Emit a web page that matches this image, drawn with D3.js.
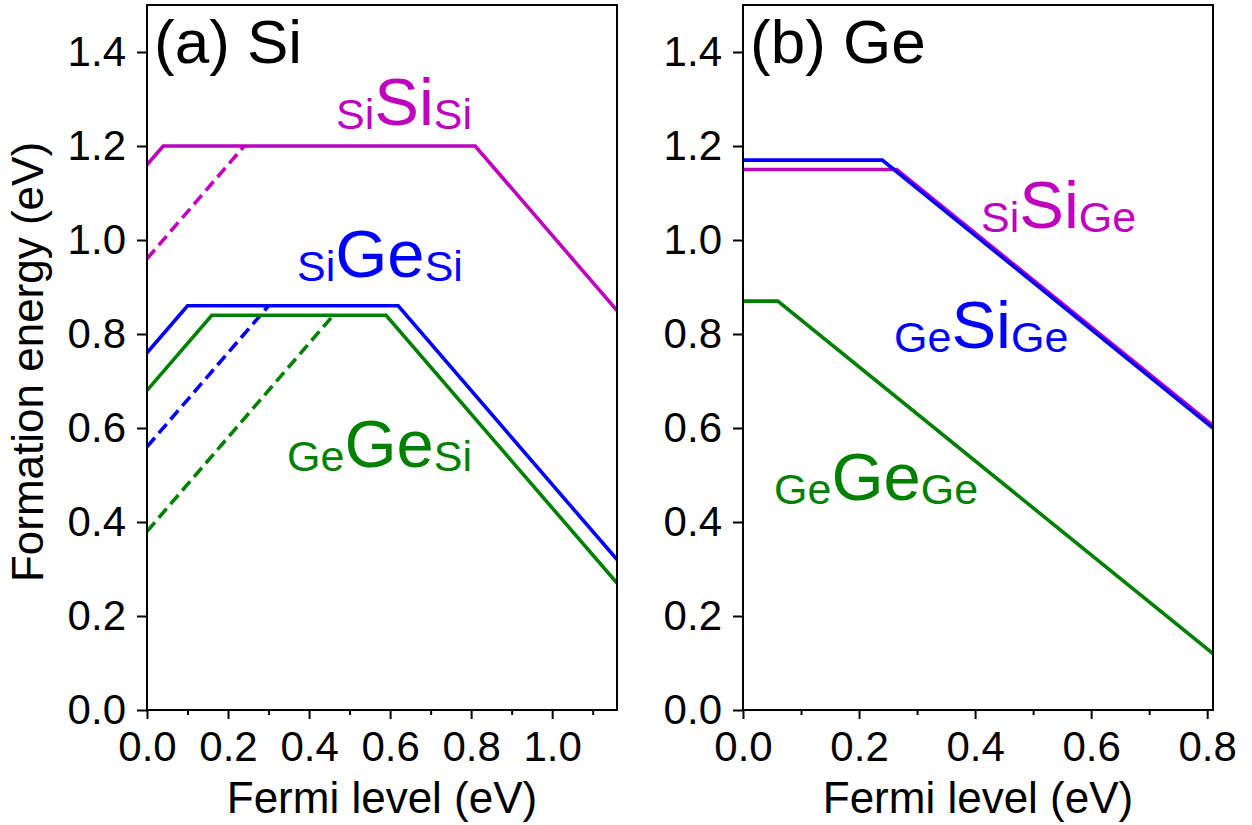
<!DOCTYPE html>
<html>
<head>
<meta charset="utf-8">
<script src="https://cdn.jsdelivr.net/npm/d3@7"></script>
<style>
  html, body { margin: 0; padding: 0; background: #fff; }
  svg { display: block; font-family: "Liberation Sans", Arial, Helvetica, sans-serif; }
</style>
</head>
<body>
<svg id="chart" width="1252" height="825"></svg>
<script>
// ---------- data ----------
const yDomain = [0, 1.5];
const yTickValues = [0.0, 0.2, 0.4, 0.6, 0.8, 1.0, 1.2, 1.4];

const xDomainA = [0, 1.16];
const xTickValuesA = [0.0, 0.2, 0.4, 0.6, 0.8, 1.0];
const xMinorTicksA = [0.1, 0.3, 0.5, 0.7, 0.9, 1.1];

const xDomainB = [0, 0.81];
const xTickValuesB = [0.0, 0.2, 0.4, 0.6, 0.8];
const xMinorTicksB = [0.1, 0.3, 0.5, 0.7];

// Panel (a) Si host
const aSiSi_fermi = [0, 0.04, 0.81, 1.16];
const aSiSi_energy = [1.16, 1.20, 1.20, 0.85];
const aSiSiDash_fermi = [0, 0.24];
const aSiSiDash_energy = [0.96, 1.20];

const aGe_fermi = [0, 0.10, 0.62, 1.16];
const aGe_energy = [0.76, 0.86, 0.86, 0.32];
const aGeDash_fermi = [0, 0.30];
const aGeDash_energy = [0.56, 0.86];

const aGeGe_fermi = [0, 0.16, 0.59, 1.16];
const aGeGe_energy = [0.68, 0.84, 0.84, 0.27];
const aGeGeDash_fermi = [0, 0.46];
const aGeGeDash_energy = [0.38, 0.84];

// Panel (b) Ge host
const bSiSi_fermi = [0, 0.265, 0.81];
const bSiSi_energy = [1.15, 1.15, 0.605];
const bGeSi_fermi = [0, 0.24, 0.81];
const bGeSi_energy = [1.17, 1.17, 0.60];
const bGeGe_fermi = [0, 0.06, 0.81];
const bGeGe_energy = [0.87, 0.87, 0.12];

const colMagenta = "#bf00bf", colBlue = "#0000ff", colGreen = "#008000";

// ---------- layout ----------
const svg = d3.select("#chart");
const panels = [
  {left: 147, right: 617, xDomain: xDomainA, ticks: xTickValuesA, minor: xMinorTicksA, title: "(a) Si",
   series: [
     {x: aSiSi_fermi, y: aSiSi_energy, c: colMagenta, dash: false},
     {x: aSiSiDash_fermi, y: aSiSiDash_energy, c: colMagenta, dash: true},
     {x: aGe_fermi, y: aGe_energy, c: colBlue, dash: false},
     {x: aGeDash_fermi, y: aGeDash_energy, c: colBlue, dash: true},
     {x: aGeGe_fermi, y: aGeGe_energy, c: colGreen, dash: false},
     {x: aGeGeDash_fermi, y: aGeGeDash_energy, c: colGreen, dash: true}
   ],
   labels: [
     {pre: "Si", main: "Si", post: "Si", c: colMagenta, x: 336, y: 125},
     {pre: "Si", main: "Ge", post: "Si", c: colBlue, x: 297, y: 277},
     {pre: "Ge", main: "Ge", post: "Si", c: colGreen, x: 287, y: 467}
   ]},
  {left: 743, right: 1213, xDomain: xDomainB, ticks: xTickValuesB, minor: xMinorTicksB, title: "(b) Ge",
   series: [
     {x: bSiSi_fermi, y: bSiSi_energy, c: colMagenta, dash: false},
     {x: bGeSi_fermi, y: bGeSi_energy, c: colBlue, dash: false},
     {x: bGeGe_fermi, y: bGeGe_energy, c: colGreen, dash: false}
   ],
   labels: [
     {pre: "Si", main: "Si", post: "Ge", c: colMagenta, x: 981, y: 228},
     {pre: "Ge", main: "Si", post: "Ge", c: colBlue, x: 894, y: 348},
     {pre: "Ge", main: "Ge", post: "Ge", c: colGreen, x: 774, y: 500}
   ]}
];
const plotTop = 5, plotBottom = 710;
const tickFont = 42, labelFont = 43;

panels.forEach(p => {
  const x = d3.scaleLinear().domain(p.xDomain).range([p.left, p.right]);
  const y = d3.scaleLinear().domain(yDomain).range([plotBottom, plotTop]);
  const g = svg.append("g");

  const line = d3.line().x(d => x(d[0])).y(d => y(d[1]));
  const clipId = "clip" + p.left;
  svg.append("clipPath").attr("id", clipId).append("rect")
    .attr("x", p.left).attr("y", plotTop).attr("width", p.right - p.left).attr("height", plotBottom - plotTop);
  const lg = g.append("g").attr("clip-path", `url(#${clipId})`);
  p.series.forEach(s => {
    const pts = s.x.map((v, i) => [v, s.y[i]]);
    lg.append("path").attr("d", line(pts)).attr("fill", "none")
      .attr("stroke", s.c).attr("stroke-width", 3.6)
      .attr("stroke-linejoin", "miter")
      .attr("stroke-dasharray", s.dash ? "12,6" : null);
  });

  const ya = g.append("g").attr("transform", `translate(${p.left},0)`)
    .call(d3.axisLeft(y).tickValues(yTickValues).tickFormat(d3.format(".1f")).tickSize(10).tickPadding(11).tickSizeOuter(0));
  const xa = g.append("g").attr("transform", `translate(0,${plotBottom})`)
    .call(d3.axisBottom(x).tickValues(p.ticks).tickFormat(d3.format(".1f")).tickSize(9).tickPadding(12).tickSizeOuter(0));
  const xm = g.append("g").attr("transform", `translate(0,${plotBottom})`)
    .call(d3.axisBottom(x).tickValues(p.minor).tickFormat("").tickSize(5).tickSizeOuter(0));
  [ya, xa, xm].forEach(a => {
    a.select(".domain").remove();
    a.selectAll("line").attr("stroke", "#000").attr("stroke-width", 2);
    a.selectAll("text").attr("font-size", tickFont).attr("fill", "#000")
      .attr("font-family", "'Liberation Sans', Arial, Helvetica, sans-serif");
  });

  g.append("rect").attr("x", p.left).attr("y", plotTop).attr("width", p.right - p.left).attr("height", plotBottom - plotTop)
    .attr("fill", "none").attr("stroke", "#000").attr("stroke-width", 2);

  g.append("text").attr("x", p.left + 7).attr("y", 63).attr("font-size", 62).attr("fill", "#000").text(p.title);

  g.append("text").attr("x", (p.left + p.right) / 2).attr("y", 813).attr("text-anchor", "middle")
    .attr("font-size", 44).attr("fill", "#000").text("Fermi level (eV)");

  p.labels.forEach(l => {
    const t = g.append("text").attr("x", l.x).attr("y", l.y).attr("fill", l.c);
    t.append("tspan").attr("font-size", 43).attr("dy", 4).text(l.pre);
    t.append("tspan").attr("font-size", 67).attr("dy", -4).text(l.main);
    t.append("tspan").attr("font-size", 43).attr("dy", 4).text(l.post);
  });
});

svg.append("text").attr("transform", "translate(43,362) rotate(-90)").attr("text-anchor", "middle")
  .attr("font-size", 44).attr("fill", "#000").text("Formation energy (eV)");
</script>
</body>
</html>
